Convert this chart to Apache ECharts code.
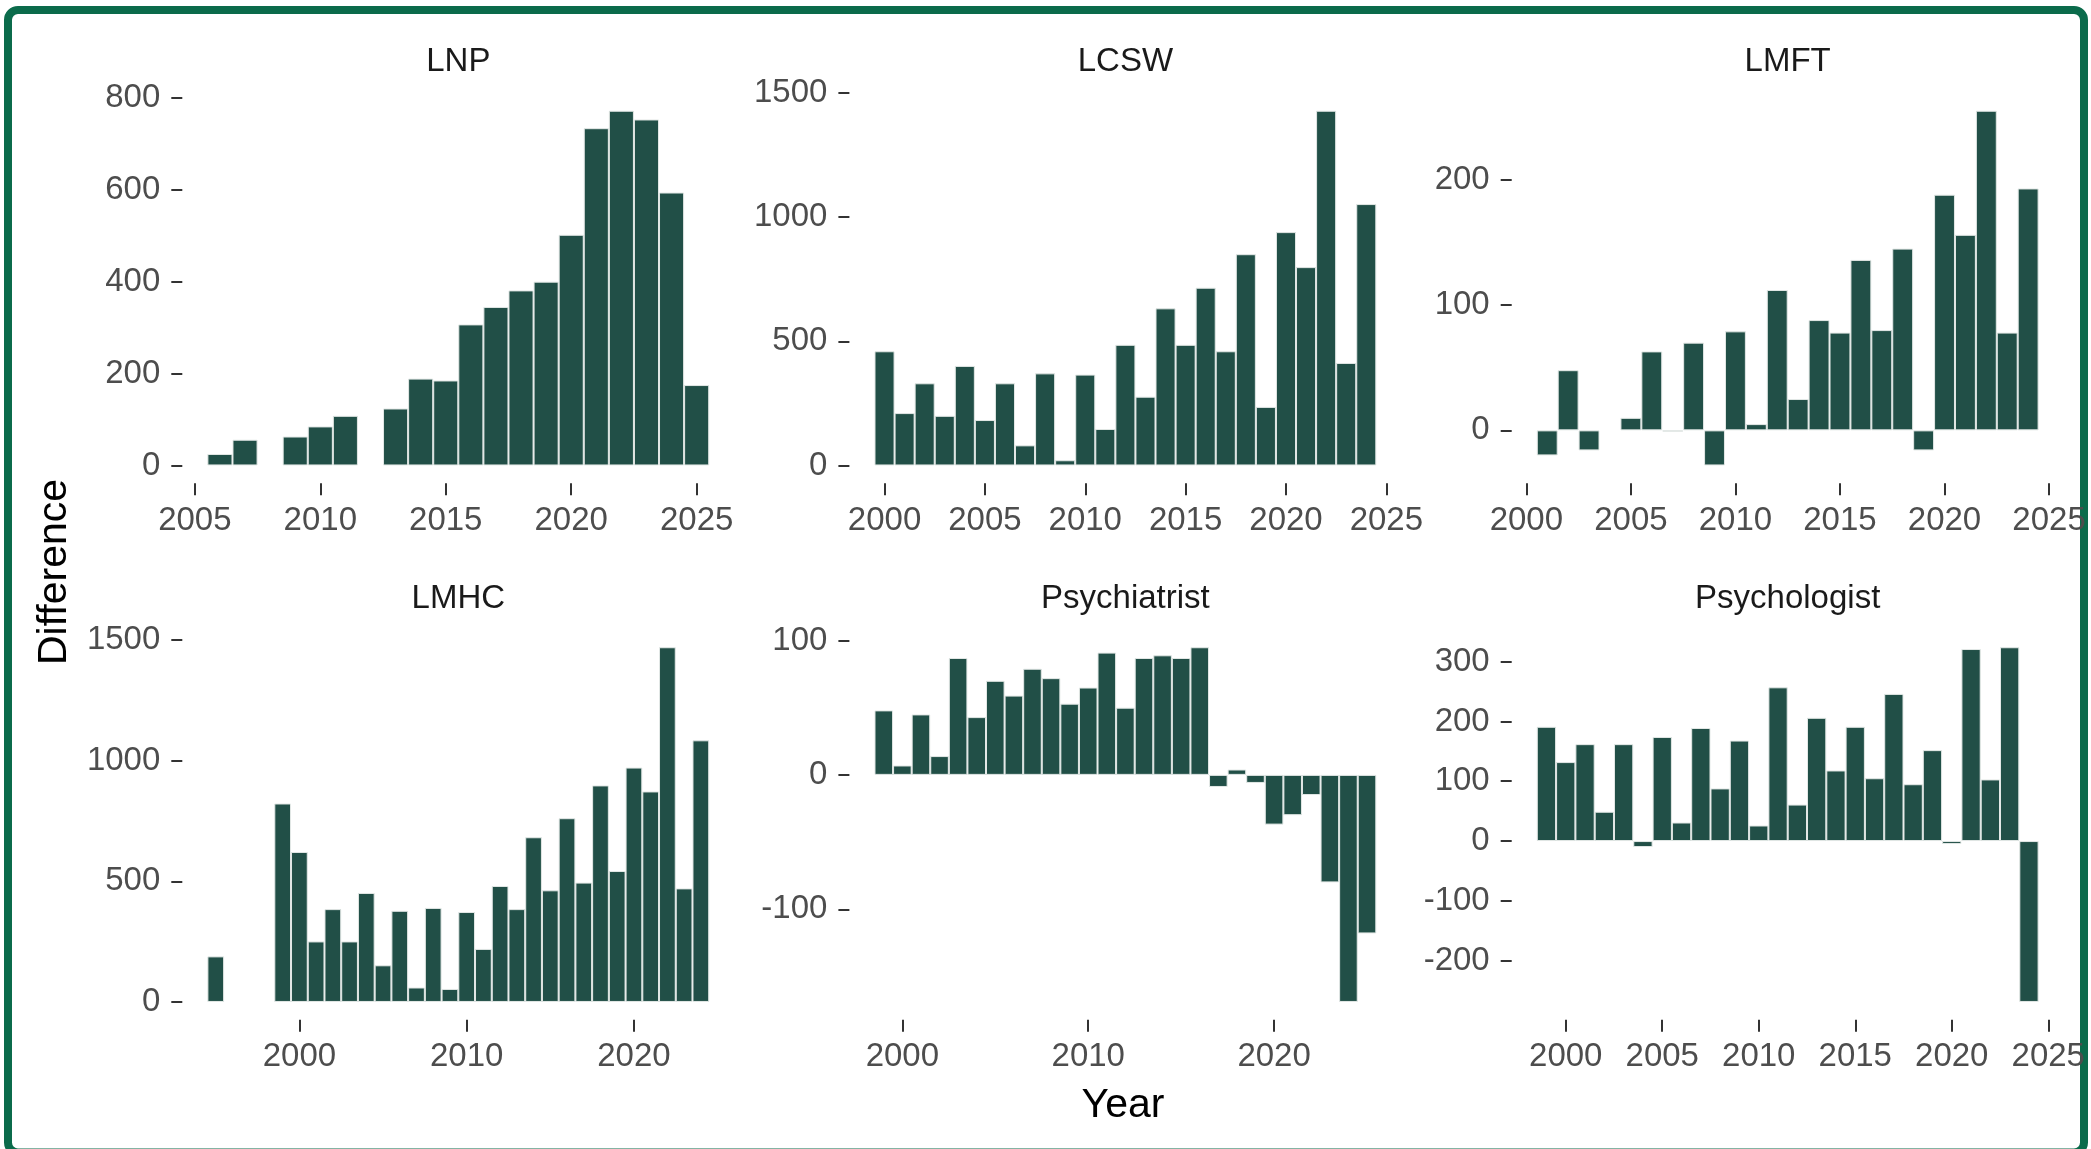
<!DOCTYPE html>
<html><head><meta charset="utf-8">
<script src="https://cdn.jsdelivr.net/npm/echarts@6/dist/echarts.min.js"></script>
<style>html,body{margin:0;padding:0;background:#fff}#c{width:2091px;height:1149px}</style>
</head><body><div id="c"></div>
<script>
// ---------- data ----------
const panelNames = ['LNP', 'LCSW', 'LMFT', 'LMHC', 'Psychiatrist', 'Psychologist'];

const lnpYears   = [2006,2007,2008,2009,2010,2011,2012,2013,2014,2015,2016,2017,2018,2019,2020,2021,2022,2023,2024,2025];
const lnpValues  = [25,56,null,63,85,108,null,124,189,185,307,345,381,400,502,734,772,753,594,175];

const lcswYears  = [2000,2001,2002,2003,2004,2005,2006,2007,2008,2009,2010,2011,2012,2013,2014,2015,2016,2017,2018,2019,2020,2021,2022,2023,2024];
const lcswValues = [460,211,331,200,401,183,331,81,371,21,366,147,486,277,633,486,716,460,851,236,940,799,1429,413,1053];

const lmftYears  = [2001,2002,2003,2004,2005,2006,2007,2008,2009,2010,2011,2012,2013,2014,2015,2016,2017,2018,2019,2020,2021,2022,2023,2024];
const lmftValues = [-20,48,-16,null,10,63,-1,70,-28,79,5,112,25,88,78,136,80,145,-16,188,156,255,78,193];

const lmhcYears  = [1995,1996,1997,1998,1999,2000,2001,2002,2003,2004,2005,2006,2007,2008,2009,2010,2011,2012,2013,2014,2015,2016,2017,2018,2019,2020,2021,2022,2023,2024];
const lmhcValues = [189,null,null,null,823,622,251,385,251,452,152,378,60,390,54,373,220,481,385,683,463,762,495,898,543,972,873,1471,471,1085];

const psychiatristYears  = [1999,2000,2001,2002,2003,2004,2005,2006,2007,2008,2009,2010,2011,2012,2013,2014,2015,2016,2017,2018,2019,2020,2021,2022,2023,2024,2025];
const psychiatristValues = [48,7,45,14,87,43,70,59,79,72,53,65,91,50,87,89,87,95,-9,4,-6,-37,-30,-15,-80,-169,-118];

const psychologistYears  = [1999,2000,2001,2002,2003,2004,2005,2006,2007,2008,2009,2010,2011,2012,2013,2014,2015,2016,2017,2018,2019,2020,2021,2022,2023,2024];
const psychologistValues = [191,132,162,49,162,-10,174,31,189,88,168,26,257,61,206,118,191,105,246,95,152,-5,321,103,324,-269];

const lnpXTicks = [2005,2010,2015,2020,2025];
const lcswXTicks = [2000,2005,2010,2015,2020,2025];
const lmftXTicks = [2000,2005,2010,2015,2020,2025];
const lmhcXTicks = [2000,2010,2020];
const psychiatristXTicks = [2000,2010,2020];
const psychologistXTicks = [2000,2005,2010,2015,2020,2025];

const lnpYTicks = [0,200,400,600,800];
const lcswYTicks = [0,500,1000,1500];
const lmftYTicks = [0,100,200];
const lmhcYTicks = [0,500,1000,1500];
const psychiatristYTicks = [-100,0,100];
const psychologistYTicks = [-200,-100,0,100,200,300];

const xAxisTitle = 'Year';
const yAxisTitle = 'Difference';

// ---------- layout ----------
const panels = [
  {name: panelNames[0], years: lnpYears, values: lnpValues, xt: lnpXTicks, yt: lnpYTicks},
  {name: panelNames[1], years: lcswYears, values: lcswValues, xt: lcswXTicks, yt: lcswYTicks},
  {name: panelNames[2], years: lmftYears, values: lmftValues, xt: lmftXTicks, yt: lmftYTicks},
  {name: panelNames[3], years: lmhcYears, values: lmhcValues, xt: lmhcXTicks, yt: lmhcYTicks},
  {name: panelNames[4], years: psychiatristYears, values: psychiatristValues, xt: psychiatristXTicks, yt: psychiatristYTicks},
  {name: panelNames[5], years: psychologistYears, values: psychologistValues, xt: psychologistXTicks, yt: psychologistYTicks}
];
const colLeft = [182.3, 849.4, 1511.7];
const rowTop = [93, 629.5];
const PW = 552, PH = 390.2;
const FONT = '"Liberation Sans", Arial, Helvetica, sans-serif';
const BAR = '#214F47';

const grids = [], xAxes = [], yAxes = [], series = [], texts = [];
panels.forEach((p, i) => {
  const c = i % 3, r = Math.floor(i / 3);
  const pts = [];
  p.years.forEach((y, k) => { if (p.values[k] !== null) pts.push([y, p.values[k]]); });
  const xs = pts.map(d => d[0]), vs = pts.map(d => d[1]);
  const x0 = Math.min(...xs) - 0.5, x1 = Math.max(...xs) + 0.5;
  const xe = (x1 - x0) * 0.05;
  const y0 = Math.min(0, ...vs), y1 = Math.max(0, ...vs);
  const ye = (y1 - y0) * 0.05;
  const xmin = x0 - xe, xmax = x1 + xe;
  grids.push({left: colLeft[c], top: rowTop[r], width: PW, height: PH, containLabel: false, outerBoundsMode: 'none', show: false});
  xAxes.push({
    type: 'value', gridIndex: i, min: xmin, max: xmax, splitLine: {show: false},
    axisLine: {show: false, onZero: false},
    axisTick: {show: true, length: 12, lineStyle: {color: '#333333', width: 2}, customValues: p.xt},
    axisLabel: {show: true, customValues: p.xt, margin: 21, color: '#4D4D4D', fontSize: 33, fontFamily: FONT, formatter: v => String(v)}
  });
  yAxes.push({
    type: 'value', gridIndex: i, min: y0 - ye, max: y1 + ye, splitLine: {show: false},
    axisLine: {show: false, onZero: false},
    axisTick: {show: true, length: 11, lineStyle: {color: '#333333', width: 2}, customValues: p.yt},
    axisLabel: {show: true, customValues: p.yt, margin: 22, color: '#4D4D4D', fontSize: 33, fontFamily: FONT, formatter: v => String(v)}
  });
  series.push({
    type: 'bar', xAxisIndex: i, yAxisIndex: i, data: pts,
    barWidth: PW / (xmax - xmin),
    itemStyle: {color: BAR, borderColor: '#E3E8E6', borderWidth: 1},
    emphasis: {disabled: true}, animation: false
  });
  texts.push({type: 'text', x: colLeft[c] + PW / 2, y: rowTop[r] - 31,
    style: {text: p.name, fill: '#1A1A1A', font: '33px ' + FONT, textAlign: 'center', textVerticalAlign: 'middle'}});
});

texts.push({type: 'text', x: 1123, y: 1106,
  style: {text: xAxisTitle, fill: '#000000', font: '41px ' + FONT, textAlign: 'center', textVerticalAlign: 'middle'}});
texts.push({type: 'text', x: 55, y: 572, rotation: Math.PI / 2,
  style: {text: yAxisTitle, fill: '#000000', font: '41px ' + FONT, textAlign: 'center', textVerticalAlign: 'middle'}});
texts.push({type: 'rect', shape: {x: 8, y: 10, width: 2076, height: 1142.5, r: 10},
  style: {fill: null, stroke: '#0B6B4B', lineWidth: 8}, silent: true});

const chart = echarts.init(document.getElementById('c'), null, {renderer: 'canvas'});
chart.setOption({
  backgroundColor: '#FFFFFF',
  animation: false,
  grid: grids, xAxis: xAxes, yAxis: yAxes, series: series,
  graphic: {elements: texts}
});
</script></body></html>
